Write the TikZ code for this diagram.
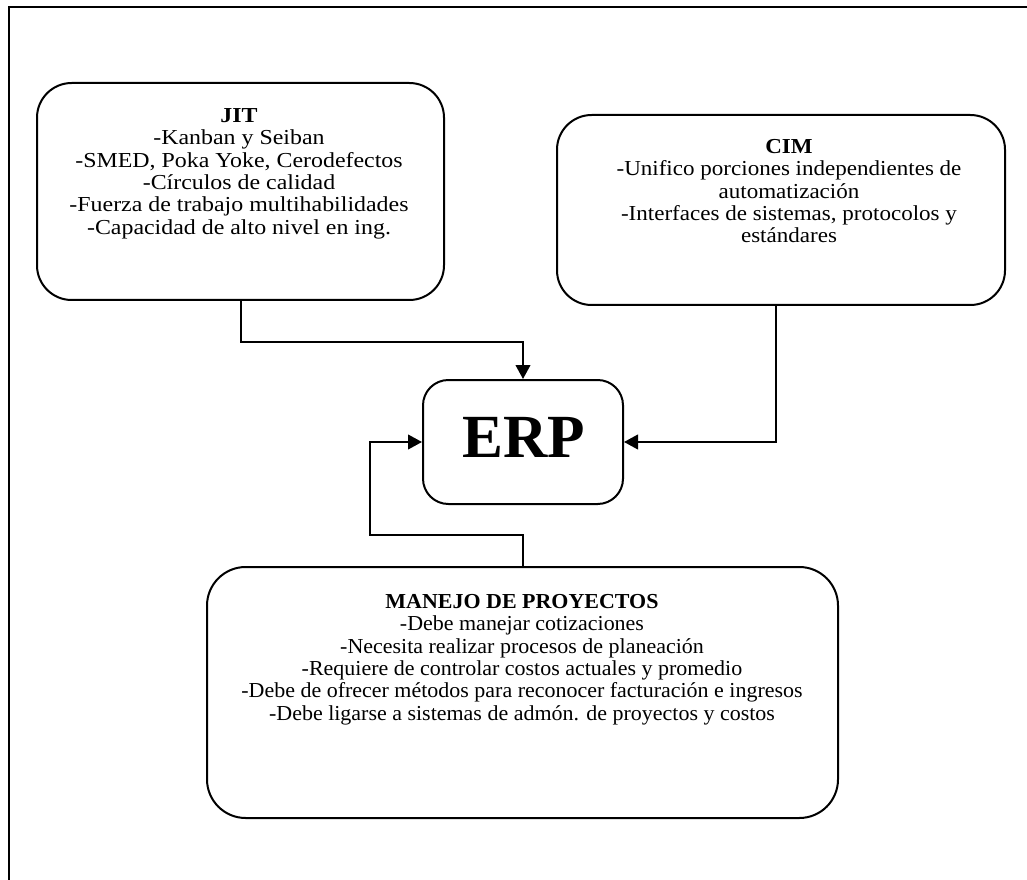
\documentclass[tikz,border=0pt]{standalone}
\usepackage{fontspec}
\setmainfont{Liberation Serif}
\newfontfamily\jitfont{Liberation Serif}[FakeStretch=1.12]
\newfontfamily\cimfont{Liberation Serif}[FakeStretch=1.08]
\newfontfamily\proyfont{Liberation Serif}[FakeStretch=1.03]
\usetikzlibrary{arrows.meta}
\AtBeginDocument{\lineskiplimit=-20pt\relax}

\tikzset{
  box/.style={draw, line width=1.5pt, rounded corners=#1, inner sep=0pt},
  box/.default=26pt,
  boxtext/.style={anchor=north, align=center, inner sep=0pt},
  conn/.style={line width=1.5pt},
  arr/.style={conn, -{Triangle[length=10.5pt,width=11pt]}},
}

\begin{document}
\begin{tikzpicture}[x=0.75pt, y=-0.75pt]
\useasboundingbox (0,0) rectangle (1027,880);
\clip (0,0) rectangle (1027,880);

% outer frame (runs off the right and bottom edges)
\draw[line width=1.8pt] (9,7) rectangle (1045,900);

% boxes
\node[box=19pt, minimum width=150pt, minimum height=93pt] (erp) at (523,442) {};
\node[box=26pt, minimum width=305.25pt, minimum height=162.75pt] (jit) at (240.5,191.5) {};
\node[box=26pt, minimum width=336pt, minimum height=142.5pt] (cim) at (781,210) {};
\node[box=29pt, minimum width=473.25pt, minimum height=188.25pt] (proy) at (522.5,692.5) {};

% texts
\node[anchor=base, inner sep=0pt] (erpt) at (524,457)
  {\bfseries\fontsize{46}{50}\selectfont ERP};
\node[boxtext, font=\jitfont\fontsize{16}{16.8}\selectfont] (jitt) at (239,108) {\textbf{JIT}\\
  -Kanban y Seiban\\
  -SMED, Poka Yoke, Cerodefectos\\
  -Círculos de calidad\\
  -Fuerza de trabajo multihabilidades\\
  -Capacidad de alto nivel en ing.};
\node[boxtext, font=\cimfont\fontsize{16}{16.8}\selectfont] (cimt) at (789,139) {\textbf{CIM}\\
  -Unifico porciones independientes de\\
  automatización\\
  -Interfaces de sistemas, protocolos y\\
  estándares};
\node[boxtext, font=\proyfont\fontsize{16}{16.8}\selectfont] (proyt) at (522,594) {\textbf{MANEJO DE PROYECTOS}\\
  -Debe manejar cotizaciones\\
  -Necesita realizar procesos de planeación\\
  -Requiere de controlar costos actuales y promedio\\
  -Debe de ofrecer métodos para reconocer facturación e ingresos\\
  -Debe ligarse a sistemas de admón. de proyectos y costos};

% connectors
\coordinate (jk) at (240.5,342);
\coordinate (pk) at (370,535);
\draw[arr] (jit.south) -- (jk) -| (erp.north);
\draw[arr] ([xshift=-3.75pt]cim.south) |- (erp.east);
\draw[arr] (proy.north) |- (pk) |- (erp.west);
\end{tikzpicture}
\end{document}
